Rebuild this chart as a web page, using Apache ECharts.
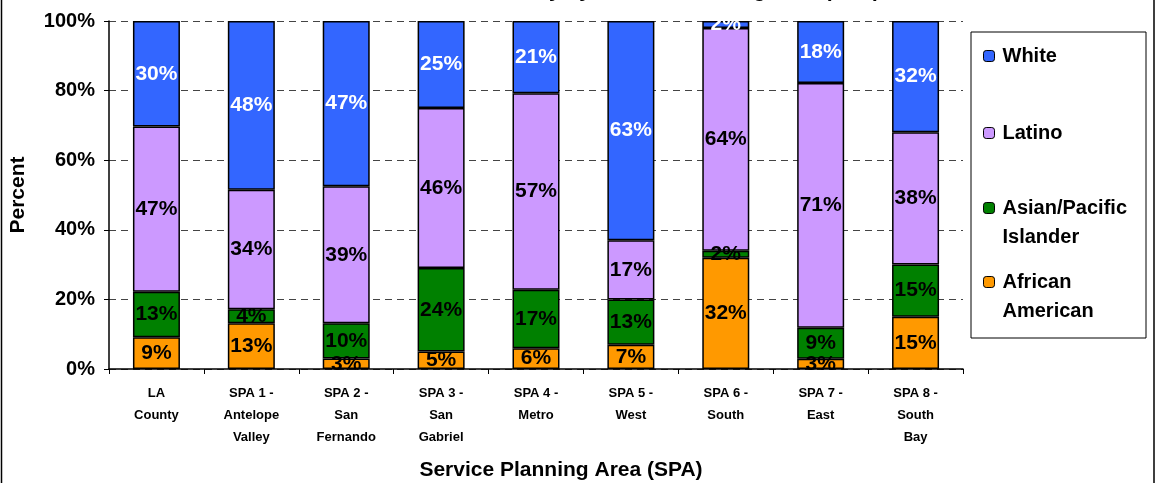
<!DOCTYPE html>
<html>
<head>
<meta charset="utf-8">
<script src="https://cdn.jsdelivr.net/npm/echarts@6/dist/echarts.min.js"></script>
<style>
  html, body { margin: 0; padding: 0; background: #fff; }
  #main { width: 1158px; height: 483px; }
</style>
</head>
<body>
<div id="main"></div>
<script>
// categories and values (percent labels)
var categories = [
  "LA\nCounty",
  "SPA 1 -\nAntelope\nValley",
  "SPA 2 -\nSan\nFernando",
  "SPA 3 -\nSan\nGabriel",
  "SPA 4 -\nMetro",
  "SPA 5 -\nWest",
  "SPA 6 -\nSouth",
  "SPA 7 -\nEast",
  "SPA 8 -\nSouth\nBay"
];
var africanAmerican = [9, 13, 3, 5, 6, 7, 32, 3, 15];
var asianPacific    = [13, 4, 10, 24, 17, 13, 2, 9, 15];
var latino          = [47, 34, 39, 46, 57, 17, 64, 71, 38];
var white           = [30, 48, 47, 25, 21, 63, 2, 18, 32];
var yTicks = [0, 20, 40, 60, 80, 100];

var font = "Liberation Sans, Arial, sans-serif";

// 100% stacked: each bar is scaled to its own total
var totals = categories.map(function (c, i) {
  return africanAmerican[i] + asianPacific[i] + latino[i] + white[i];
});
function toShare(arr) {
  return arr.map(function (v, i) { return { value: v / totals[i] * 100, raw: v }; });
}

function makeSeries(name, arr, color, labelColor) {
  return {
    name: name,
    type: "bar",
    stack: "total",
    barWidth: 47,
    data: toShare(arr),
    itemStyle: { color: color, borderColor: "#000", borderWidth: 1.5 },
    label: {
      show: true,
      position: "inside",
      color: labelColor,
      fontFamily: font,
      fontWeight: "bold",
      fontSize: 21,
      formatter: function (p) { return p.data.raw + "%"; }
    },
    emphasis: { disabled: true }
  };
}

// two-line legend names get an empty first line so the swatch sits on line one
function legendItem(name, top) {
  return {
    left: 983,
    top: top,
    padding: 0,
    orient: "vertical",
    itemWidth: 11,
    itemHeight: 11,
    itemGap: 0,
    selectedMode: false,
    data: [name],
    itemStyle: { borderColor: "#000", borderWidth: 1 },
    formatter: function (n) {
      if (n === "Asian/Pacific Islander") return "\nAsian/Pacific\nIslander";
      if (n === "African American") return "\nAfrican\nAmerican";
      return n;
    },
    textStyle: {
      fontFamily: font, fontWeight: "bold", fontSize: 20, lineHeight: 29, color: "#000",
      padding: [0, 0, 0, 3]
    }
  };
}

var myChart = echarts.init(document.getElementById("main"));
myChart.setOption({
  animation: false,
  title: {
    text: "Ethnicity by Service Planning Area (SPA)",
    left: 671,
    textAlign: "center",
    top: -24,
    textStyle: { fontFamily: font, fontWeight: "bold", fontSize: 21, color: "#000" }
  },
  graphic: [
    { type: "rect", shape: { x: 1.5, y: -5, width: 1152.5, height: 500 }, style: { fill: "none", stroke: "#000", lineWidth: 1.5 }, z: -1 },
    { type: "rect", shape: { x: 971, y: 32, width: 175, height: 306 }, style: { fill: "#fff", stroke: "#000", lineWidth: 1 }, z: -1 },
    { type: "text", x: 561, y: 470, style: { text: "Service Planning Area (SPA)", fontFamily: font, fontWeight: "bold", fontSize: 21, fill: "#000", align: "center", verticalAlign: "middle" } }
  ],
  legend: [
    legendItem("White", 41.5),
    legendItem("Latino", 118.5),
    legendItem("Asian/Pacific Islander", 164.5),
    legendItem("African American", 238.5)
  ],
  grid: { left: 108, right: 195, top: 21, bottom: 114 },
  xAxis: {
    type: "category",
    data: categories,
    axisLine: { lineStyle: { color: "#000", width: 1.5 } },
    axisTick: { show: true, length: 5, lineStyle: { color: "#000" } },
    axisLabel: {
      interval: 0,
      margin: 13,
      color: "#000",
      fontFamily: font,
      fontWeight: "bold",
      fontSize: 13,
      lineHeight: 22
    }
  },
  yAxis: {
    type: "value",
    min: 0,
    max: 100,
    interval: 20,
    name: "Percent",
    nameLocation: "middle",
    nameGap: 80,
    nameTextStyle: { fontFamily: font, fontWeight: "bold", fontSize: 21, color: "#000" },
    axisLine: { show: true, lineStyle: { color: "#000", width: 1.5 } },
    axisTick: { show: true, length: 5, lineStyle: { color: "#000" } },
    splitLine: { show: true, lineStyle: { color: "#444", type: [7, 5], width: 1 } },
    axisLabel: {
      margin: 14,
      color: "#000",
      fontFamily: font,
      fontWeight: "bold",
      fontSize: 20,
      formatter: function (v) { return yTicks.indexOf(v) >= 0 ? v + "%" : ""; }
    }
  },
  series: [
    makeSeries("African American", africanAmerican, "#FF9900", "#000"),
    makeSeries("Asian/Pacific Islander", asianPacific, "#008000", "#000"),
    makeSeries("Latino", latino, "#CC99FF", "#000"),
    makeSeries("White", white, "#3366FF", "#fff")
  ]
});
</script>
</body>
</html>
